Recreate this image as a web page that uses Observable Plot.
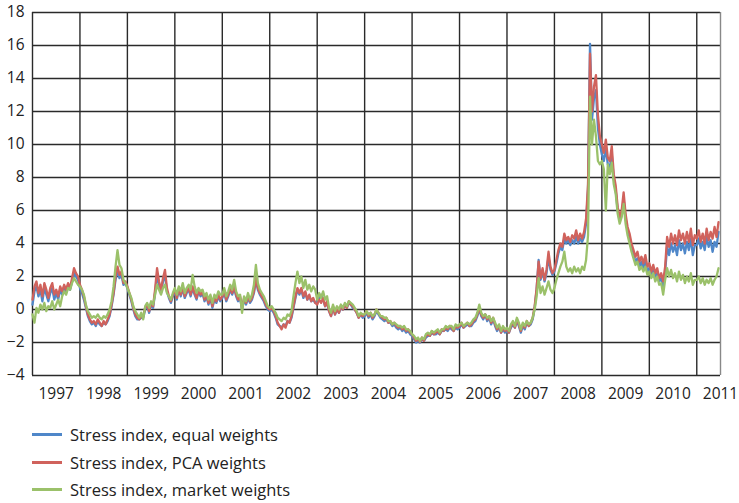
<!DOCTYPE html>
<html><head><meta charset="utf-8">
<script src="https://cdn.jsdelivr.net/npm/d3@7"></script>
<script src="https://cdn.jsdelivr.net/npm/@observablehq/plot@0.6"></script>
<style>
body{margin:0;background:#fff;font-family:"Open Sans",sans-serif;}
#legend{margin-left:32px;margin-top:11px}
.row{display:flex;align-items:center;height:27.5px;font-size:16.5px;color:#222}
.sw{width:30px;height:3px;margin-right:8px}
</style></head><body><div id="chart"></div><div id="legend"></div>
<script>
// Half-monthly readings (24 per year) from Jan 1997 to mid-2011
const startYear = 1997;
const perYear = 24;
const years = [1997,1998,1999,2000,2001,2002,2003,2004,2005,2006,2007,2008,2009,2010,2011];
const yTicks = [-4,-2,0,2,4,6,8,10,12,14,16,18];
const seriesNames = ["Stress index, equal weights","Stress index, PCA weights","Stress index, market weights"];
const seriesColors = ["#4f87c9","#d0625c","#9bc16a"];

const equalWeights = [
 0.3,1.1,1.4,0.8,1.2,0.5,1.3,0.9,0.5,1.0,1.3,0.6,1.0,0.6,1.2,0.9,1.3,1.0,1.4,1.2,1.7,2.2,2.0,1.8,
 1.3,1.0,0.6,0.1,-0.4,-0.7,-0.9,-0.8,-1.0,-0.7,-0.9,-1.0,-0.8,-0.9,-0.7,-0.4,0.2,0.9,1.8,2.4,1.9,2.1,1.5,1.6,
 1.3,0.9,0.5,0.0,-0.4,-0.6,-0.6,-0.5,-0.5,0.0,0.2,-0.2,0.3,0.1,1.0,2.1,1.5,1.0,1.7,2.1,1.1,0.7,0.4,0.8,
 1.1,0.6,1.2,0.8,1.3,0.7,1.0,1.2,0.8,1.3,0.9,0.6,1.1,0.8,1.0,0.5,0.8,0.3,0.7,0.1,0.6,0.4,0.8,0.5,
 0.7,1.0,0.5,0.8,1.2,0.9,1.3,0.8,0.5,0.7,0.0,0.6,0.3,0.7,0.4,0.6,1.0,1.8,1.2,0.9,0.7,0.5,0.2,0.0,
 -0.1,0.0,-0.2,-0.5,-0.9,-1.0,-1.1,-0.9,-1.0,-0.7,-0.8,-0.5,0.1,0.7,1.2,0.9,1.2,0.7,1.0,0.6,0.8,0.5,0.6,0.4,
 0.4,0.7,0.9,0.6,0.2,0.4,-0.1,-0.4,0.1,-0.3,0.0,-0.2,0.1,0.0,0.3,0.1,0.4,0.3,0.1,0.0,-0.2,-0.5,-0.3,-0.5,
 -0.4,-0.2,-0.5,-0.3,-0.6,-0.4,-0.1,-0.3,-0.5,-0.6,-0.7,-0.6,-0.8,-0.8,-1.0,-0.9,-1.1,-1.2,-1.1,-1.3,-1.2,-1.4,-1.3,-1.5,
 -1.6,-1.8,-2.0,-1.9,-2.0,-1.8,-1.9,-1.7,-1.6,-1.6,-1.4,-1.5,-1.5,-1.4,-1.5,-1.3,-1.3,-1.2,-1.3,-1.1,-1.2,-1.3,-1.1,-1.2,
 -1.1,-0.9,-1.1,-1.0,-0.9,-1.0,-1.0,-0.8,-0.7,-0.4,0.0,-0.4,-0.6,-0.3,-0.7,-0.5,-0.9,-0.6,-1.0,-1.3,-1.1,-1.4,-1.2,-1.4,
 -1.3,-1.4,-1.1,-0.9,-1.1,-0.7,-1.0,-1.4,-1.0,-1.2,-0.8,-1.0,-0.9,-0.6,0.1,1.2,3.0,1.8,2.3,1.7,2.2,3.2,2.4,2.1,
 2.3,2.8,3.4,3.8,3.6,4.3,4.0,4.2,3.9,4.2,4.0,4.4,4.0,4.3,4.1,4.4,5.2,7.3,16.1,11.5,12.8,13.3,11.0,10.0,
 9.4,9.0,9.8,8.8,8.6,9.4,7.9,7.2,6.0,5.4,5.7,6.7,5.5,4.8,4.3,3.7,3.3,2.9,3.1,2.6,2.9,2.5,2.9,2.3,
 2.5,2.1,2.4,1.9,2.2,1.7,1.9,1.4,2.3,3.8,3.3,4.0,3.5,3.9,3.3,4.2,3.6,4.0,3.4,4.1,3.6,4.3,3.3,3.9,
 3.9,4.3,3.7,4.1,3.6,4.4,3.8,4.2,3.5,4.1,3.8,4.7
];
const pcaWeights = [
 0.6,1.4,1.7,1.0,1.5,0.8,1.6,1.2,0.7,1.3,1.6,0.9,1.2,0.8,1.4,1.1,1.5,1.2,1.6,1.3,1.9,2.5,2.2,2.0,
 1.5,1.2,0.8,0.2,-0.3,-0.6,-0.8,-0.7,-0.9,-0.6,-0.8,-1.0,-0.7,-0.9,-0.6,-0.3,0.3,1.0,2.0,2.6,2.1,2.3,1.6,1.7,
 1.4,1.0,0.6,0.1,-0.3,-0.5,-0.6,-0.4,-0.4,0.1,0.3,-0.1,0.4,0.2,1.2,2.5,1.7,1.2,1.9,2.4,1.3,0.8,0.5,0.9,
 1.2,0.7,1.3,0.9,1.4,0.8,1.1,1.3,0.9,1.4,1.0,0.7,1.2,0.9,1.1,0.6,0.9,0.4,0.8,0.2,0.7,0.5,0.9,0.6,
 0.8,1.1,0.6,0.9,1.3,1.0,1.4,0.9,0.6,0.8,0.1,0.7,0.4,0.8,0.5,0.7,1.1,1.9,1.3,1.0,0.8,0.6,0.3,0.1,
 0.0,0.1,-0.1,-0.4,-0.8,-1.0,-1.2,-0.9,-1.1,-0.7,-0.8,-0.4,0.2,0.8,1.3,1.0,1.3,0.8,1.1,0.6,0.9,0.5,0.7,0.4,
 0.3,0.6,0.4,0.7,0.2,0.5,-0.1,-0.4,0.2,-0.3,0.1,-0.2,0.2,0.0,0.3,0.1,0.5,0.3,0.2,0.0,-0.2,-0.5,-0.3,-0.4,
 -0.3,-0.1,-0.4,-0.2,-0.5,-0.3,0.0,-0.2,-0.4,-0.5,-0.6,-0.5,-0.8,-0.7,-0.9,-0.8,-1.0,-1.1,-1.0,-1.2,-1.1,-1.3,-1.2,-1.4,
 -1.5,-1.7,-1.9,-1.8,-1.95,-1.7,-1.9,-1.6,-1.5,-1.6,-1.3,-1.5,-1.4,-1.3,-1.5,-1.2,-1.3,-1.1,-1.2,-1.0,-1.1,-1.3,-1.0,-1.1,
 -1.0,-0.8,-1.1,-0.9,-0.8,-1.0,-0.9,-0.7,-0.6,-0.3,0.1,-0.3,-0.5,-0.3,-0.6,-0.4,-0.8,-0.5,-0.9,-1.2,-1.0,-1.4,-1.1,-1.3,
 -1.2,-1.4,-1.0,-0.8,-1.1,-0.6,-0.9,-1.3,-0.9,-1.1,-0.7,-1.0,-0.8,-0.5,0.2,1.3,2.9,1.9,2.5,1.8,2.4,3.5,2.6,2.2,
 2.4,3.0,3.6,4.0,3.8,4.6,4.2,4.4,4.1,4.5,4.3,4.8,4.2,4.6,4.3,4.7,5.5,7.6,15.5,12.0,13.5,14.2,11.8,10.5,
 10.0,9.5,10.3,9.2,9.0,9.9,8.2,7.5,6.2,5.6,6.0,7.1,5.8,5.0,4.6,4.0,3.6,3.2,3.5,2.9,3.2,2.8,3.3,2.6,
 2.8,2.3,2.7,2.2,2.5,1.9,2.2,1.7,2.6,4.4,3.8,4.6,4.0,4.5,3.9,4.8,4.2,4.6,4.0,4.7,4.1,4.9,3.9,4.5,
 4.3,4.8,4.1,4.6,4.0,4.9,4.2,4.7,4.3,5.0,4.4,5.3
];
const marketWeights = [
 -0.3,-0.8,0.1,-0.2,0.3,0.0,0.4,-0.1,0.2,0.1,0.5,0.0,0.3,0.6,0.2,0.8,1.1,0.9,1.3,1.2,1.6,1.9,1.7,1.5,
 1.4,1.2,0.9,0.3,-0.1,-0.3,-0.5,-0.4,-0.5,-0.3,-0.5,-0.6,-0.4,-0.5,-0.3,0.0,0.5,1.4,2.6,3.6,2.7,2.5,1.8,1.6,
 1.3,1.0,0.7,0.2,-0.1,-0.3,-0.5,-0.2,-0.6,0.2,0.4,0.1,0.5,0.3,0.9,1.5,1.2,0.9,1.3,1.5,1.0,0.8,0.6,1.0,
 1.3,0.9,1.4,1.1,1.6,1.0,1.3,1.5,1.2,2.1,1.4,1.0,1.3,1.1,1.2,0.8,1.0,0.6,0.9,0.4,0.9,0.7,1.1,0.9,
 0.9,1.3,0.8,1.1,1.5,1.2,1.8,1.1,0.8,0.9,-0.2,0.8,0.5,1.0,0.6,0.9,1.5,2.7,1.6,1.2,1.0,0.8,0.5,0.2,
 0.1,0.2,0.0,-0.2,-0.5,-0.6,-0.7,-0.5,-0.6,-0.3,-0.4,-0.1,0.8,1.6,2.3,1.6,2.0,1.3,1.8,1.2,1.5,1.1,1.4,1.2,
 0.6,1.0,0.7,1.1,0.6,0.8,0.1,-0.2,0.3,-0.1,0.2,0.0,0.3,0.1,0.4,0.2,0.5,0.4,0.3,0.1,-0.1,-0.4,-0.2,-0.3,
 -0.3,-0.1,-0.3,-0.2,-0.4,-0.3,0.0,-0.2,-0.4,-0.4,-0.5,-0.5,-0.7,-0.7,-0.9,-0.8,-0.9,-1.0,-1.0,-1.1,-1.0,-1.2,-1.2,-1.3,
 -1.5,-1.6,-1.8,-1.7,-1.9,-1.7,-1.8,-1.5,-1.4,-1.5,-1.3,-1.4,-1.3,-1.2,-1.4,-1.2,-1.2,-1.0,-1.1,-1.0,-1.0,-1.2,-0.9,-1.0,
 -0.9,-0.8,-1.0,-0.9,-0.8,-0.9,-0.8,-0.6,-0.5,-0.2,0.3,-0.2,-0.4,-0.3,-0.5,-0.4,-0.7,-0.5,-0.8,-1.1,-0.9,-1.3,-1.0,-1.2,
 -1.1,-1.3,-0.9,-0.7,-1.0,-0.5,-0.8,-1.2,-0.8,-1.0,-0.7,-0.9,-0.8,-0.5,0.0,0.8,1.9,1.0,1.4,0.9,1.3,1.7,1.2,1.0,
 1.3,1.8,2.2,2.6,2.9,3.5,2.6,2.3,2.5,2.2,2.6,2.3,2.5,2.2,2.6,2.4,3.0,4.5,12.9,10.0,11.5,10.5,9.0,8.8,
 9.0,8.5,6.0,8.8,8.2,8.9,7.6,7.0,5.8,5.2,5.6,6.4,5.2,4.5,4.0,3.5,3.1,2.7,2.9,2.4,2.6,2.3,2.6,2.1,
 2.3,1.9,2.2,1.7,2.0,1.5,1.6,0.9,1.8,2.5,2.0,2.4,1.9,2.2,1.7,2.3,1.8,2.1,1.6,2.0,1.7,2.2,1.5,1.8,
 1.8,2.0,1.6,1.9,1.5,1.8,1.6,1.9,1.5,1.8,2.0,2.5
];

const toRows = arr => arr.map((v, i) => ({t: startYear + i / perYear, v}));
const seriesData = [equalWeights, pcaWeights, marketWeights].map(toRows);

const chart = Plot.plot({
  width: 739, height: 410,
  marginLeft: 32, marginRight: 19, marginTop: 12, marginBottom: 35,
  style: {fontFamily: "'Open Sans', sans-serif", fontSize: "15.5px", color: "#222", background: "#fff"},
  x: {type: "linear", domain: [1997, 2011.5], axis: null},
  y: {domain: [-4, 18], axis: null},
  marks: [
    Plot.ruleY(yTicks, {stroke: "#2a2a2a", strokeWidth: 1.4}),
    Plot.ruleX(years, {stroke: "#2a2a2a", strokeWidth: 1.4}),
    Plot.ruleX([2011.5], {stroke: "#888", strokeWidth: 1.4}),
    ...seriesData.map((d, i) => Plot.line(d, {x: "t", y: "v", stroke: seriesColors[i], strokeWidth: 2.3, strokeLinejoin: "round"})),
    Plot.axisY(yTicks, {label: null, tickSize: 0, tickPadding: 8, fill: "#222", fontSize: 15.5}),
    Plot.axisX(years.map(y => y + 0.5), {label: null, tickSize: 0, tickPadding: 12, fill: "#222", fontSize: 15.5, tickFormat: d => String(Math.round(d - 0.5))})
  ]
});
document.getElementById("chart").appendChild(chart);

const legend = document.getElementById("legend");
seriesNames.forEach((name, i) => {
  const row = document.createElement("div");
  row.className = "row";
  const sw = document.createElement("div");
  sw.className = "sw";
  sw.style.background = seriesColors[i];
  const label = document.createElement("span");
  label.textContent = name;
  row.appendChild(sw); row.appendChild(label);
  legend.appendChild(row);
});
</script></body></html>
